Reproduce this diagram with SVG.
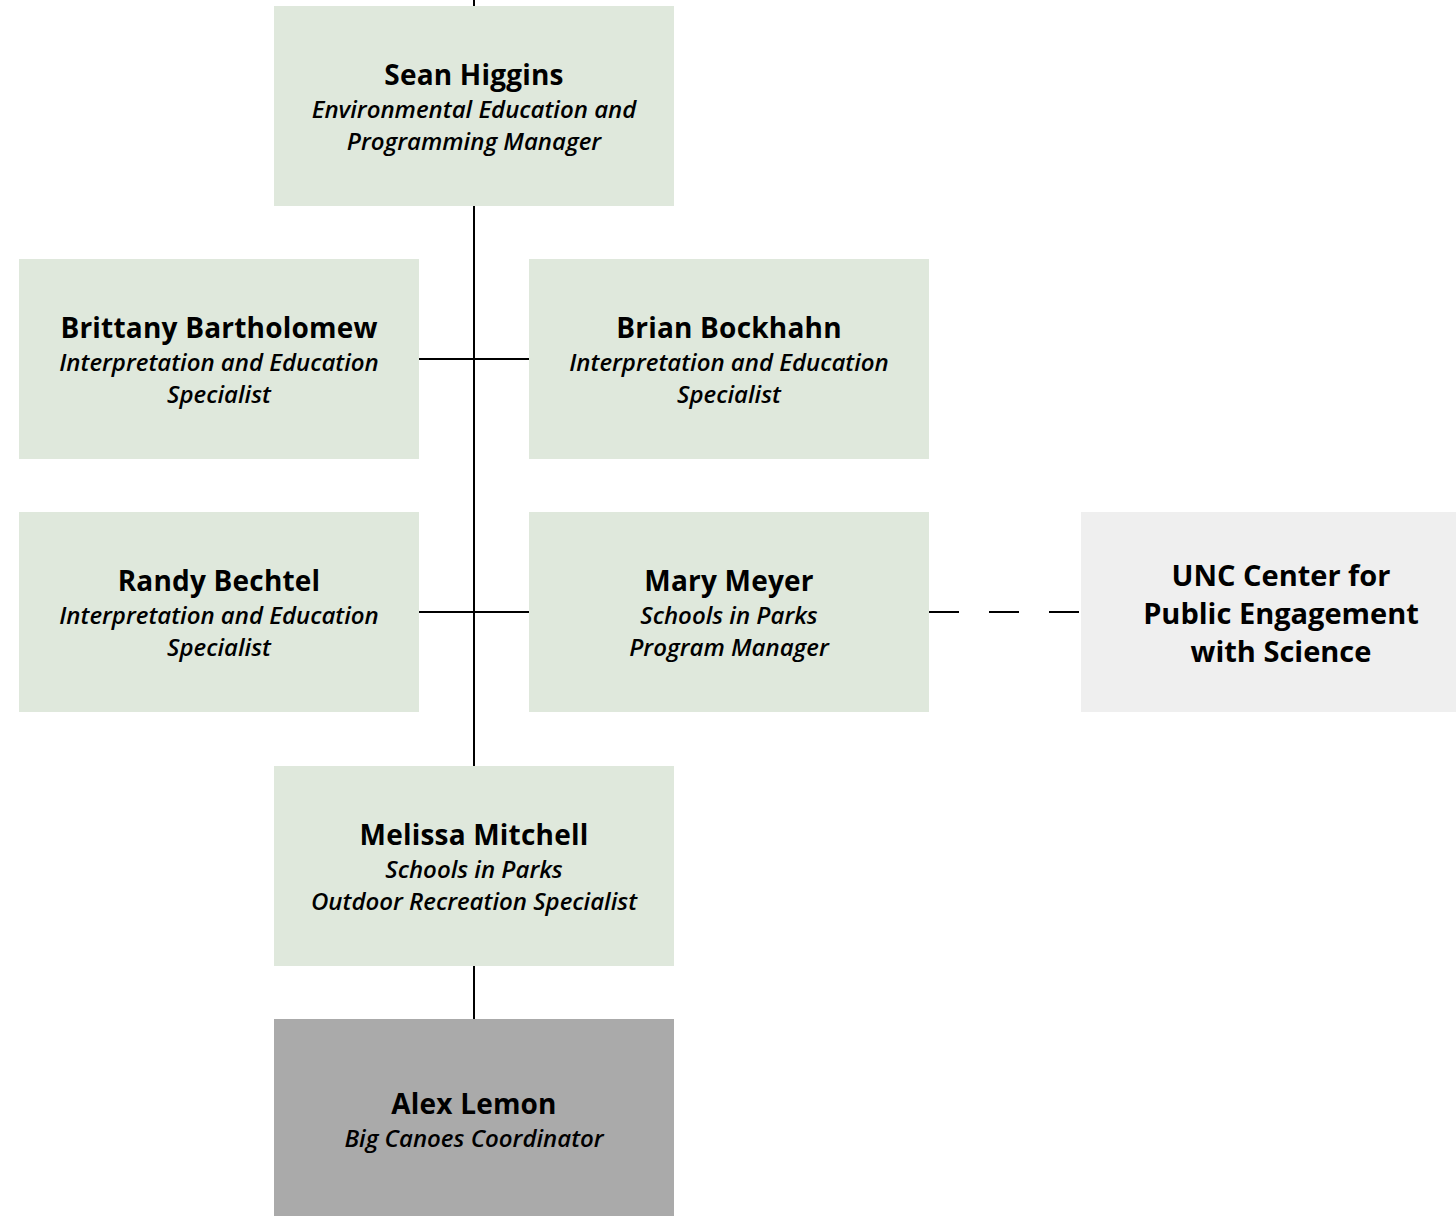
<svg xmlns="http://www.w3.org/2000/svg" width="1456" height="1216" viewBox="0 0 1456 1216">
<style>
.g{fill:#dfe8dc}
.l{fill:#efefef}
.d{fill:#aaaaaa}
text{font-family:"Open Sans","Noto Sans",sans-serif;text-anchor:middle;fill:#000}
.n{font-weight:bold;font-size:28px;letter-spacing:0.2px}
.t{font-style:italic;font-weight:600;font-size:24px}
.u{font-weight:bold;font-size:29px}
.c{stroke:#000;stroke-width:2;fill:none}
</style>
<rect width="1456" height="1216" fill="#fff"/>
<g id="connectors">
<path class="c" d="M474 0V1019"/>
<path class="c" d="M419 359H529M419 612H529"/>
<path class="c" d="M929 612H1081" stroke-dasharray="30,30"/>
</g>
<g id="sean">
<rect class="g" x="274" y="6" width="400" height="200"/>
<text x="474" y="85" class="n">Sean Higgins</text>
<text x="474" y="118" class="t">Environmental Education and</text>
<text x="474" y="150" class="t">Programming Manager</text>
</g>
<g id="brittany">
<rect class="g" x="19" y="259" width="400" height="200"/>
<text x="219" y="338" class="n">Brittany Bartholomew</text>
<text x="219" y="371" class="t">Interpretation and Education</text>
<text x="219" y="403" class="t">Specialist</text>
</g>
<g id="brian">
<rect class="g" x="529" y="259" width="400" height="200"/>
<text x="729" y="338" class="n">Brian Bockhahn</text>
<text x="729" y="371" class="t">Interpretation and Education</text>
<text x="729" y="403" class="t">Specialist</text>
</g>
<g id="randy">
<rect class="g" x="19" y="512" width="400" height="200"/>
<text x="219" y="591" class="n">Randy Bechtel</text>
<text x="219" y="624" class="t">Interpretation and Education</text>
<text x="219" y="656" class="t">Specialist</text>
</g>
<g id="mary">
<rect class="g" x="529" y="512" width="400" height="200"/>
<text x="729" y="591" class="n">Mary Meyer</text>
<text x="729" y="624" class="t">Schools in Parks</text>
<text x="729" y="656" class="t">Program Manager</text>
</g>
<g id="unc">
<rect class="l" x="1081" y="512" width="375" height="200"/>
<text x="1281" y="586" class="u">UNC Center for</text>
<text x="1281" y="624" class="u">Public Engagement</text>
<text x="1281" y="662" class="u">with Science</text>
</g>
<g id="melissa">
<rect class="g" x="274" y="766" width="400" height="200"/>
<text x="474" y="845" class="n">Melissa Mitchell</text>
<text x="474" y="878" class="t">Schools in Parks</text>
<text x="474" y="910" class="t">Outdoor Recreation Specialist</text>
</g>
<g id="alex">
<rect class="d" x="274" y="1019" width="400" height="200"/>
<text x="474" y="1114" class="n">Alex Lemon</text>
<text x="474" y="1147" class="t">Big Canoes Coordinator</text>
</g>
</svg>
